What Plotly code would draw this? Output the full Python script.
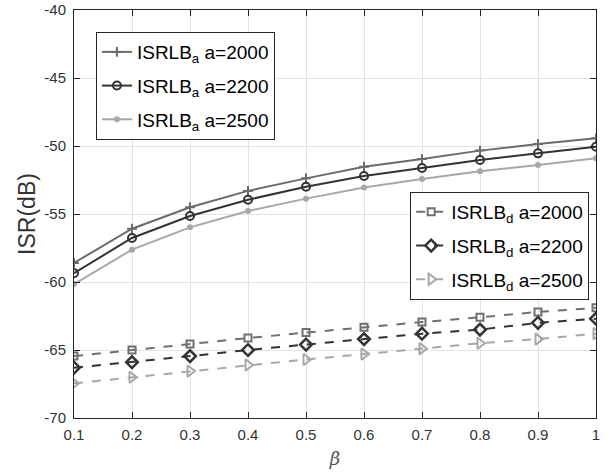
import plotly.graph_objects as go

beta = [0.1, 0.2, 0.3, 0.4, 0.5, 0.6, 0.7, 0.8, 0.9, 1.0]

isr_a_2000 = [-58.6, -56.08, -54.5, -53.3, -52.38, -51.52, -50.96, -50.34, -49.85, -49.43]
isr_a_2200 = [-59.35, -56.76, -55.15, -53.95, -53.0, -52.2, -51.62, -51.03, -50.54, -50.05]
isr_a_2500 = [-60.15, -57.62, -55.98, -54.78, -53.87, -53.05, -52.43, -51.86, -51.4, -50.9]

isr_d_2000 = [-65.45, -65.0, -64.55, -64.12, -63.72, -63.32, -62.95, -62.6, -62.2, -61.9]
isr_d_2200 = [-66.3, -65.9, -65.45, -65.0, -64.6, -64.2, -63.8, -63.5, -63.0, -62.7]
isr_d_2500 = [-67.45, -67.0, -66.55, -66.1, -65.7, -65.3, -64.9, -64.5, -64.2, -63.8]

x_ticks = [0.1, 0.2, 0.3, 0.4, 0.5, 0.6, 0.7, 0.8, 0.9, 1.0]
x_tick_labels = ["0.1", "0.2", "0.3", "0.4", "0.5", "0.6", "0.7", "0.8", "0.9", "1"]
y_ticks = [-70, -65, -60, -55, -50, -45, -40]
y_tick_labels = ["-70", "-65", "-60", "-55", "-50", "-45", "-40"]

fig = go.Figure()

solid = [
    ("ISRLB<sub>a</sub> a=2000", isr_a_2000, "#6b6b6b", dict(symbol="cross-thin-open", size=7, line=dict(width=2, color="#6b6b6b"))),
    ("ISRLB<sub>a</sub> a=2200", isr_a_2200, "#333333", dict(symbol="circle-open", size=8, line=dict(width=2, color="#333333"))),
    ("ISRLB<sub>a</sub> a=2500", isr_a_2500, "#a8a8a8", dict(symbol="circle", size=6, color="#a8a8a8")),
]
for i, (name, ys, col, mk) in enumerate(solid):
    fig.add_trace(go.Scatter(x=beta, y=ys, name=name, mode="lines+markers",
                             line=dict(color=col, width=2), marker=mk, legend="legend",
                             legendgroup="a%d" % i))

dashed = [
    ("ISRLB<sub>d</sub> a=2000", isr_d_2000, "#707070", dict(symbol="square-open", size=7, line=dict(width=2, color="#707070"))),
    ("ISRLB<sub>d</sub> a=2200", isr_d_2200, "#333333", dict(symbol="diamond-open", size=9, line=dict(width=2.5, color="#333333"))),
    ("ISRLB<sub>d</sub> a=2500", isr_d_2500, "#a8a8a8", dict(symbol="triangle-right-open", size=10, line=dict(width=2, color="#a8a8a8"))),
]
for i, (name, ys, col, mk) in enumerate(dashed):
    fig.add_trace(go.Scatter(x=beta, y=ys, name=name, mode="lines+markers",
                             line=dict(color=col, width=2, dash="dash"), marker=mk, legend="legend2",
                             legendgroup="d%d" % i))

axis_common = dict(showline=True, linecolor="#262626", linewidth=1, mirror="ticks",
                   ticks="inside", ticklen=6, tickcolor="#262626", automargin=False,
                   showgrid=True, gridcolor="#e3e3e3", gridwidth=1, zeroline=False,
                   tickfont=dict(family="Liberation Sans, Arial, sans-serif", size=15, color="#333333"))

fig.update_layout(
    width=613, height=476,
    margin=dict(l=74, r=17, t=10, b=58),
    paper_bgcolor="white", plot_bgcolor="white",
    font=dict(family="Liberation Sans, Arial, sans-serif", color="#262626"),
    xaxis=dict(range=[0.1, 1.0], tickvals=x_ticks, ticktext=x_tick_labels, ticklabelstandoff=3,
               title=dict(text="<i>β</i>", font=dict(size=18, color="#555555", family="DejaVu Serif, serif"), standoff=10),
               **axis_common),
    yaxis=dict(range=[-70, -40], tickvals=y_ticks, ticktext=y_tick_labels, ticklabelstandoff=4,
               title=dict(text="ISR(dB)", font=dict(size=23, color="#333333"), standoff=2),
               **axis_common),
    legend=dict(x=0.042, y=0.946, xanchor="left", yanchor="top",
                bgcolor="white", bordercolor="#262626", borderwidth=1,
                font=dict(size=19, color="#000000"), tracegroupgap=6, itemwidth=30),
    legend2=dict(x=0.644, y=0.554, xanchor="left", yanchor="top",
                 bgcolor="white", bordercolor="#262626", borderwidth=1,
                 font=dict(size=19, color="#000000"), tracegroupgap=6, itemwidth=30),
)

fig.write_html("out.html", config={"displayModeBar": False},
               post_script="document.body.style.margin='0';document.body.style.padding='0';")
